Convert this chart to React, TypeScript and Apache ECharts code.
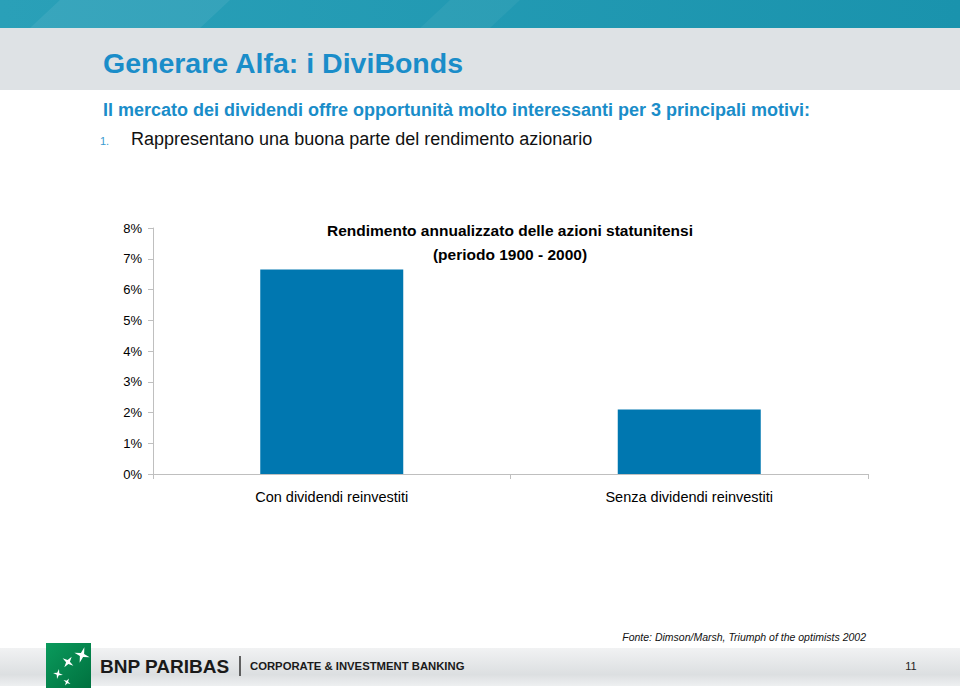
import React, { useEffect, useRef } from "react";
import * as echarts from "echarts";

const categories = ["Con dividendi reinvestiti", "Senza dividendi reinvestiti"];
const values = [6.65, 2.1];
const yTicks = { min: 0, max: 8, interval: 1 };

const slideTitle = "Generare Alfa: i DiviBonds";
const subtitle = "Il mercato dei dividendi offre opportunità molto interessanti per 3 principali motivi:";
const bulletNum = "1.";
const bulletText = "Rappresentano una buona parte del rendimento azionario";
const chartTitle = "Rendimento annualizzato delle azioni statunitensi\n(periodo 1900 - 2000)";
const source = "Fonte: Dimson/Marsh, Triumph of the optimists 2002";
const pageNum = "11";

const NARROW = '"Liberation Sans Narrow", "Arial Narrow", "Liberation Sans", Arial, sans-serif';
const SANS = '"Liberation Sans", Arial, Helvetica, sans-serif';

function star(cx: number, cy: number, r: number, rot: number) {
  const pts: number[][] = [];
  for (let i = 0; i < 8; i++) {
    const a = rot + (i * Math.PI) / 4;
    const rr = i % 2 === 0 ? r : r * 0.3;
    pts.push([cx + rr * Math.cos(a), cy + rr * Math.sin(a)]);
  }
  return {
    type: "polygon",
    shape: { points: pts },
    style: { fill: "#ffffff" },
    z: 20,
  };
}

export default function App() {
  const ref = useRef<HTMLDivElement>(null);
  useEffect(() => {
    document.body.style.margin = "0";
    const chart = echarts.init(ref.current!, undefined, { renderer: "svg" });
    chart.setOption({
      animation: false,
      backgroundColor: "#ffffff",
      title: {
        text: chartTitle,
        left: 505,
        top: 213,
        textAlign: "center",
        textStyle: {
          fontFamily: NARROW,
          fontWeight: "bold",
          fontSize: 15.5,
          color: "#000000",
          lineHeight: 24,
        },
      },
      grid: { left: 153, top: 228, width: 715, height: 246, containLabel: false },
      xAxis: {
        type: "category",
        data: categories,
        axisLine: { show: true, lineStyle: { color: "#bfbfbf", width: 1 } },
        axisTick: { show: true, length: 5, lineStyle: { color: "#bfbfbf" } },
        axisLabel: { margin: 15, fontFamily: NARROW, fontSize: 14.5, color: "#000000" },
      },
      yAxis: {
        type: "value",
        min: yTicks.min,
        max: yTicks.max,
        interval: yTicks.interval,
        axisLine: { show: true, lineStyle: { color: "#bfbfbf", width: 1 } },
        axisTick: { show: true, length: 5, lineStyle: { color: "#bfbfbf" } },
        splitLine: { show: false },
        axisLabel: {
          margin: 11,
          fontFamily: SANS,
          fontSize: 13,
          color: "#000000",
          formatter: "{value}%",
        },
      },
      series: [
        {
          type: "bar",
          data: values,
          barWidth: "40%",
          itemStyle: { color: "#0077b0" },
        },
      ],
      graphic: [
        {
          type: "rect",
          shape: { x: 0, y: 0, width: 960, height: 28 },
          style: {
            fill: new echarts.graphic.LinearGradient(0, 0, 1, 0, [
              { offset: 0, color: "#2aa0b8" },
              { offset: 1, color: "#1a93ad" },
            ]),
          },
          z: 1,
        },
        {
          type: "polygon",
          shape: { points: [[30, 28], [60, 0], [230, 0], [200, 28]] },
          style: { fill: "rgba(255,255,255,0.07)" },
          z: 2,
        },
        {
          type: "polygon",
          shape: { points: [[420, 28], [450, 0], [520, 0], [490, 28]] },
          style: { fill: "rgba(255,255,255,0.05)" },
          z: 2,
        },
        {
          type: "rect",
          shape: { x: 0, y: 28, width: 960, height: 62 },
          style: { fill: "#dee2e5" },
          z: 1,
        },
        {
          type: "text",
          x: 103,
          y: 63,
          style: {
            text: slideTitle,
            fontFamily: SANS,
            fontSize: 28.5,
            fontWeight: "bold",
            fill: "#1a8dc9",
            textVerticalAlign: "middle",
          },
          z: 5,
        },
        {
          type: "text",
          x: 103,
          y: 110,
          style: {
            text: subtitle,
            fontFamily: SANS,
            fontSize: 18,
            fontWeight: "bold",
            fill: "#1a8dc9",
            textVerticalAlign: "middle",
          },
          z: 5,
        },
        {
          type: "text",
          x: 100,
          y: 141,
          style: {
            text: bulletNum,
            fontFamily: SANS,
            fontSize: 11,
            fill: "#3a9bd0",
            textVerticalAlign: "middle",
          },
          z: 5,
        },
        {
          type: "text",
          x: 131,
          y: 139,
          style: {
            text: bulletText,
            fontFamily: SANS,
            fontSize: 18,
            fill: "#111111",
            textVerticalAlign: "middle",
          },
          z: 5,
        },
        {
          type: "text",
          x: 866,
          y: 637,
          style: {
            text: source,
            fontFamily: NARROW,
            fontSize: 10.5,
            fontStyle: "italic",
            fill: "#111111",
            textAlign: "right",
            textVerticalAlign: "middle",
          },
          z: 5,
        },
        {
          type: "rect",
          shape: { x: 0, y: 648, width: 960, height: 38 },
          style: {
            fill: new echarts.graphic.LinearGradient(0, 0, 0, 1, [
              { offset: 0, color: "#f1f2f3" },
              { offset: 0.7, color: "#dcdfe1" },
              { offset: 1, color: "#eef0f1" },
            ]),
          },
          z: 1,
        },
        {
          type: "rect",
          shape: { x: 46, y: 643, width: 45, height: 45 },
          style: {
            fill: new echarts.graphic.LinearGradient(0, 0, 1, 1, [
              { offset: 0, color: "#0a9a5c" },
              { offset: 1, color: "#00713f" },
            ]),
          },
          z: 10,
        },
        star(82, 655, 8, 0.3),
        star(68, 662, 6.5, 0.6),
        star(58, 674, 5, 0.2),
        star(67, 682, 4, 0.5),
        {
          type: "text",
          x: 100,
          y: 666,
          style: {
            text: "BNP PARIBAS",
            fontFamily: SANS,
            fontSize: 19,
            fontWeight: "bold",
            fill: "#1a1a1a",
            textVerticalAlign: "middle",
          },
          z: 5,
        },
        {
          type: "line",
          shape: { x1: 240, y1: 656, x2: 240, y2: 676 },
          style: { stroke: "#333333", lineWidth: 1.5 },
          z: 5,
        },
        {
          type: "text",
          x: 250,
          y: 666,
          style: {
            text: "CORPORATE & INVESTMENT BANKING",
            fontFamily: SANS,
            fontSize: 11.3,
            fontWeight: "bold",
            fill: "#1a1a1a",
            textVerticalAlign: "middle",
          },
          z: 5,
        },
        {
          type: "text",
          x: 911,
          y: 666,
          style: {
            text: pageNum,
            fontFamily: SANS,
            fontSize: 11,
            fill: "#222222",
            textAlign: "center",
            textVerticalAlign: "middle",
          },
          z: 5,
        },
      ],
    });
    return () => chart.dispose();
  }, []);
  return (
    <div
      ref={ref}
      style={{ position: "absolute", left: 0, top: 0, width: 960, height: 692 }}
    />
  );
}
